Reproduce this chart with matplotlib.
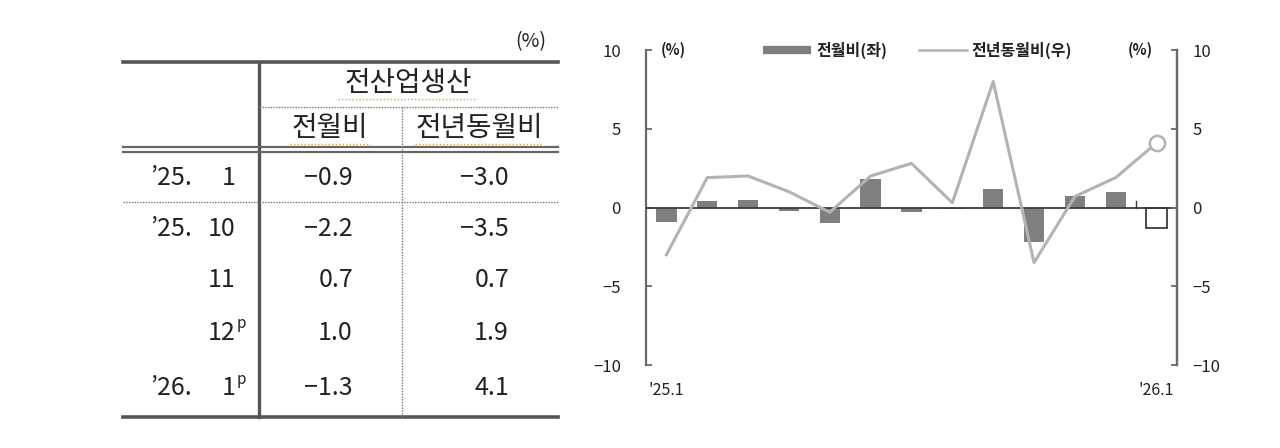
import numpy as np
import matplotlib
matplotlib.use("Agg")
import matplotlib.pyplot as plt
from matplotlib.lines import Line2D

plt.rcParams["font.family"] = ["Noto Sans CJK KR", "DejaVu Sans"]

BAR = "#7f7f7f"
LINE = "#b3b3b3"
AXC = "#6a6a6a"
TXT = "#222222"

# ── 표 데이터 ──────────────────────────────────────────────
row_year = ["’25.", "’25.", "", "", "’26."]
row_month = ["1", "10", "11", "12", "1"]
row_prelim = [False, False, False, True, True]
tab_mom = [-0.9, -2.2, 0.7, 1.0, -1.3]
tab_yoy = [-3.0, -3.5, 0.7, 1.9, 4.1]

# ── 그래프 데이터 ('25.1 ~ '26.1) ─────────────────────────
months = ["25.1", "25.2", "25.3", "25.4", "25.5", "25.6", "25.7",
          "25.8", "25.9", "25.10", "25.11", "25.12", "26.1"]
mom = [-0.9, 0.4, 0.5, -0.2, -1.0, 1.8, -0.3, -0.1, 1.2, -2.2, 0.7, 1.0, -1.3]
yoy = [-3.0, 1.9, 2.0, 1.0, -0.3, 2.0, 2.8, 0.3, 8.0, -3.5, 0.7, 1.9, 4.1]
xlabels = ["'25.1", "'26.1"]


def fmt(v):
    return f"{v:.1f}".replace("-", "−")


fig = plt.figure(figsize=(12.8, 4.48), dpi=100)

# ── 왼쪽 표 (픽셀 좌표계) ─────────────────────────────────
at = fig.add_axes([0, 0, 1, 1])
at.set_xlim(0, 1280); at.set_ylim(448, 0); at.axis("off")

L, R, VX, DX = 123, 558, 259, 402
at.plot([L, R], [62, 62], color="#555555", lw=2.6)
at.plot([L, R], [417, 417], color="#555555", lw=2.6)
at.plot([VX, VX], [62, 417], color="#555555", lw=2.4)
at.plot([L, R], [147, 147], color="#666666", lw=1.6)
at.plot([L, R], [152.5, 152.5], color="#666666", lw=1.6)
at.plot([VX, R], [107, 107], color="#777777", lw=1, ls=(0, (1, 1)))
at.plot([DX, DX], [107, 417], color="#777777", lw=1, ls=(0, (1, 1)))
at.plot([L, R], [202, 202], color="#777777", lw=1, ls=(0, (1, 1)))

at.text(546, 42, "(%)", ha="right", va="center", fontsize=14, color=TXT)
at.text(408, 83, "전산업생산", ha="center", va="center", fontsize=20, color=TXT)
at.text(330, 128, "전월비", ha="center", va="center", fontsize=20, color=TXT)
at.text(479, 128, "전년동월비", ha="center", va="center", fontsize=20, color=TXT)
for x0, x1, y in [(338, 477, 99), (290, 370, 144), (415, 543, 144)]:
    at.plot([x0, x1], [y, y], color="#e8a33a", lw=1, ls=(0, (1, 1.5)))

row_y = [178, 229, 280, 333, 388]
for y, yr, mo, pr, a, b in zip(row_y, row_year, row_month, row_prelim, tab_mom, tab_yoy):
    at.text(192, y, yr, ha="right", va="center", fontsize=18, color=TXT)
    at.text(236, y, mo, ha="right", va="center", fontsize=18, color=TXT)
    if pr:
        at.text(237, y - 9, "p", ha="left", va="center", fontsize=11, color=TXT)
    at.text(353, y, fmt(a), ha="right", va="center", fontsize=18, color=TXT)
    at.text(509, y, fmt(b), ha="right", va="center", fontsize=18, color=TXT)

# ── 오른쪽 그래프 ──────────────────────────────────────────
ax = fig.add_axes([646 / 1280, 1 - 365 / 448, 531 / 1280, 315 / 448])
x = np.arange(len(months))
n = len(months)
face = [BAR] * (n - 1) + ["white"]
edge = [BAR] * (n - 1) + ["#3a3a3a"]
ax.bar(x, mom, width=0.5, color=face, edgecolor=edge, linewidth=[0] * (n - 1) + [1.3], zorder=2)
ax.axhline(0, color="#3a3a3a", lw=1.3, zorder=3)
ax.plot([n - 1.5, n - 1.5], [0, 0.4], color="#3a3a3a", lw=1, zorder=3)
ax.set_xlim(-0.5, n - 0.5)
ax.set_ylim(-10, 10)
ax.set_yticks([-10, -5, 0, 5, 10])
ax.set_xticks([0, n - 1])
ax.set_xticklabels(xlabels)
ax.tick_params(axis="x", length=0, pad=12, labelsize=11.5, colors=TXT)
ax.tick_params(axis="y", direction="in", length=4, width=1.3, color=AXC, pad=18,
               labelsize=12, labelcolor=TXT)
for s in ["top", "bottom"]:
    ax.spines[s].set_visible(False)
for s in ["left", "right"]:
    ax.spines[s].set_color(AXC); ax.spines[s].set_linewidth(1.6)

ax2 = ax.twinx()
ax2.plot(x, yoy, color=LINE, lw=2.2, zorder=4)
ax2.plot(x[-1:], yoy[-1:], "o", ms=11, mfc="white", mec=LINE, mew=1.8, zorder=5)
ax2.set_ylim(-10, 10)
ax2.set_yticks([-10, -5, 0, 5, 10])
ax2.tick_params(axis="y", direction="in", length=4, width=1.3, color=AXC, pad=11,
                labelsize=12, labelcolor=TXT)
for s in ["top", "bottom", "left"]:
    ax2.spines[s].set_visible(False)
ax2.spines["right"].set_color(AXC); ax2.spines["right"].set_linewidth(1.6)

ax.text(0.028, 1.0, "(%)", transform=ax.transAxes, ha="left", va="center",
        fontsize=10.5, fontweight="bold", color=TXT)
ax.text(0.955, 1.0, "(%)", transform=ax.transAxes, ha="right", va="center",
        fontsize=10.5, fontweight="bold", color=TXT)

handles = [Line2D([], [], color=BAR, lw=6, solid_capstyle="butt"),
           Line2D([], [], color=LINE, lw=1.8)]
leg = ax2.legend(handles, ["전월비(좌)", "전년동월비(우)"], ncol=2, frameon=False,
                 loc="center", bbox_to_anchor=(0.512, 1.0), handlelength=3.0,
                 columnspacing=2.0, handletextpad=0.3,
                 prop={"size": 11.5, "weight": "bold"})
for t in leg.get_texts():
    t.set_color(TXT)

fig.savefig("out.png", dpi=100)
